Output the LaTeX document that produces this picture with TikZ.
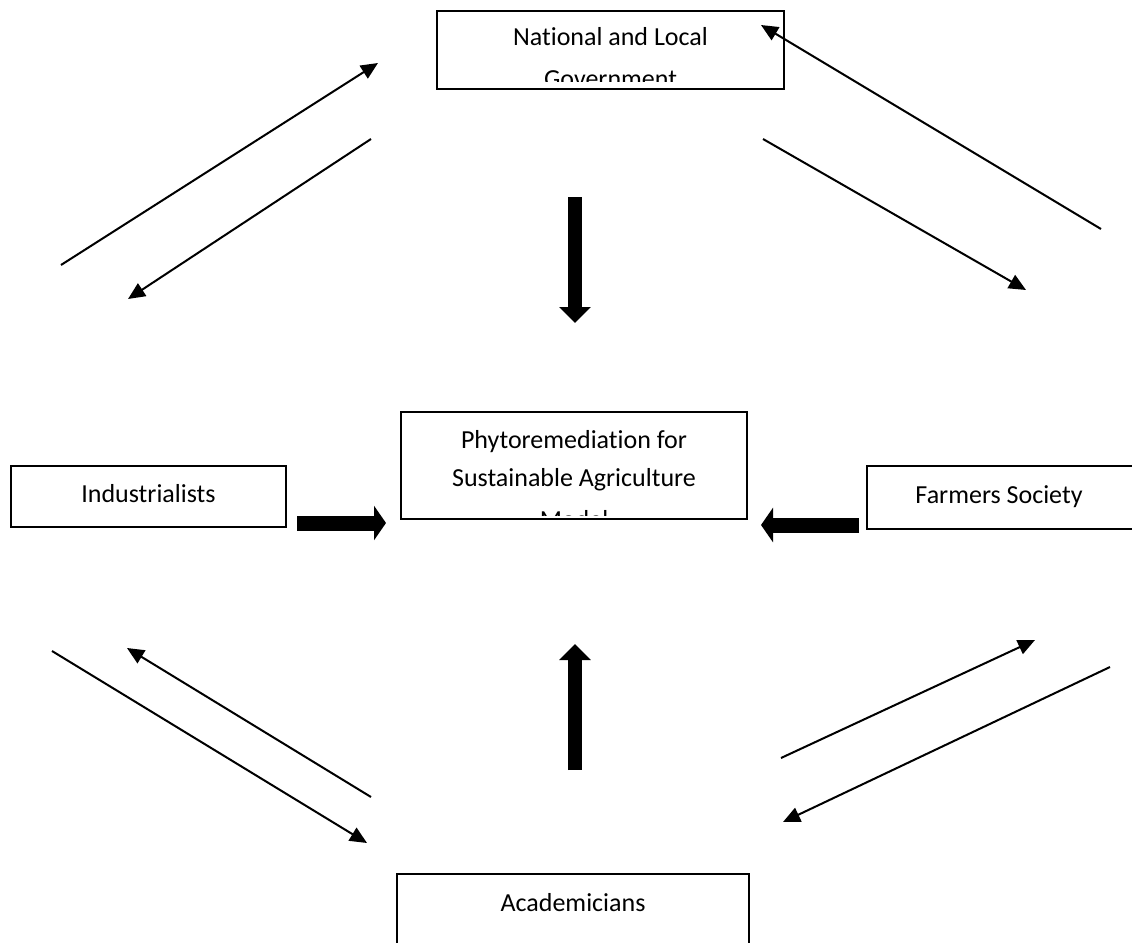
\documentclass[tikz,border=0pt]{standalone}
\usepackage{fontspec}
\setmainfont{Carlito}[Ligatures={NoCommon}]
\usetikzlibrary{arrows.meta}
\begin{document}
\begin{tikzpicture}[x=1pt,y=-1pt,
  box/.style={draw, line width=1.8pt, inner sep=0pt},
  lbl/.style={anchor=base, inner sep=0pt, font=\fontsize{26}{31}\selectfont},
  thinarrow/.style={line width=2pt, -{Triangle[length=17pt,width=15pt]}},
  fatv/.style={line width=14pt, -{Triangle[length=16pt,width=31pt]}},
  fath/.style={line width=15pt, -{Triangle[length=12pt,width=34pt]}}
]
\useasboundingbox (0,0) rectangle (1132,942);
\fill[white] (0,0) rectangle (1132,942);

% boxes
\node[box, minimum width=347pt, minimum height=78pt] (gov) at (610.5,50) {};
\node[box, minimum width=346pt, minimum height=107pt] (phyto) at (574,465.5) {};
\node[box, minimum width=275pt, minimum height=61pt] (ind) at (148.5,496.5) {};
\node[box, minimum width=266pt, minimum height=63pt] (farm) at (1000,497.5) {};
\node[box, minimum width=352pt, minimum height=80pt] (acad) at (573,914) {};

% clipped texts
\begin{scope}
  \clip (gov.north west) rectangle ([yshift=8pt]gov.south east);
  \node[lbl] (govA) at (610.5,46) {National and Local};
  \node[lbl] (govB) at (610.5,87) {Government};
\end{scope}
\begin{scope}
  \clip (phyto.north west) rectangle ([yshift=4pt]phyto.south east);
  \node[lbl] (phA) at (574,448) {Phytoremediation for};
  \node[lbl] (phB) at (574,486) {Sustainable Agriculture};
  \node[lbl] (phC) at (574,528) {Model};
\end{scope}
\node[lbl] (indT) at (148.5,502) {Industrialists};
\node[lbl] (farmT) at (999,503) {Farmers Society};
\node[lbl] (acadT) at (573,911) {Academicians};

% thick arrows
\coordinate (dA) at (575,197); \coordinate (dB) at (575,323);
\coordinate (uA) at (575,770); \coordinate (uB) at (575,644);
\coordinate (rA) at (297,523); \coordinate (rB) at (386,523);
\coordinate (lA) at (859,525); \coordinate (lB) at (761,525);
\draw[fatv] (dA) -- (dB);
\draw[fatv] (uA) -- (uB);
\draw[fath] (rA) -- (rB);
\draw[fath] (lA) -- (lB);

% thin arrows
\coordinate (t1a) at (61,265);   \coordinate (t1b) at (378,63);
\coordinate (t2a) at (371,139);  \coordinate (t2b) at (128,299);
\coordinate (t3a) at (1101,229); \coordinate (t3b) at (761,25);
\coordinate (t4a) at (763,139);  \coordinate (t4b) at (1026,290);
\coordinate (t5a) at (52,651);   \coordinate (t5b) at (367,843);
\coordinate (t6a) at (371,797);  \coordinate (t6b) at (127,648);
\coordinate (t7a) at (781,758);  \coordinate (t7b) at (1035,640);
\coordinate (t8a) at (1110,667); \coordinate (t8b) at (783,822);
\foreach \i in {1,...,8} {\draw[thinarrow] (t\i a) -- (t\i b);}
\end{tikzpicture}
\end{document}
